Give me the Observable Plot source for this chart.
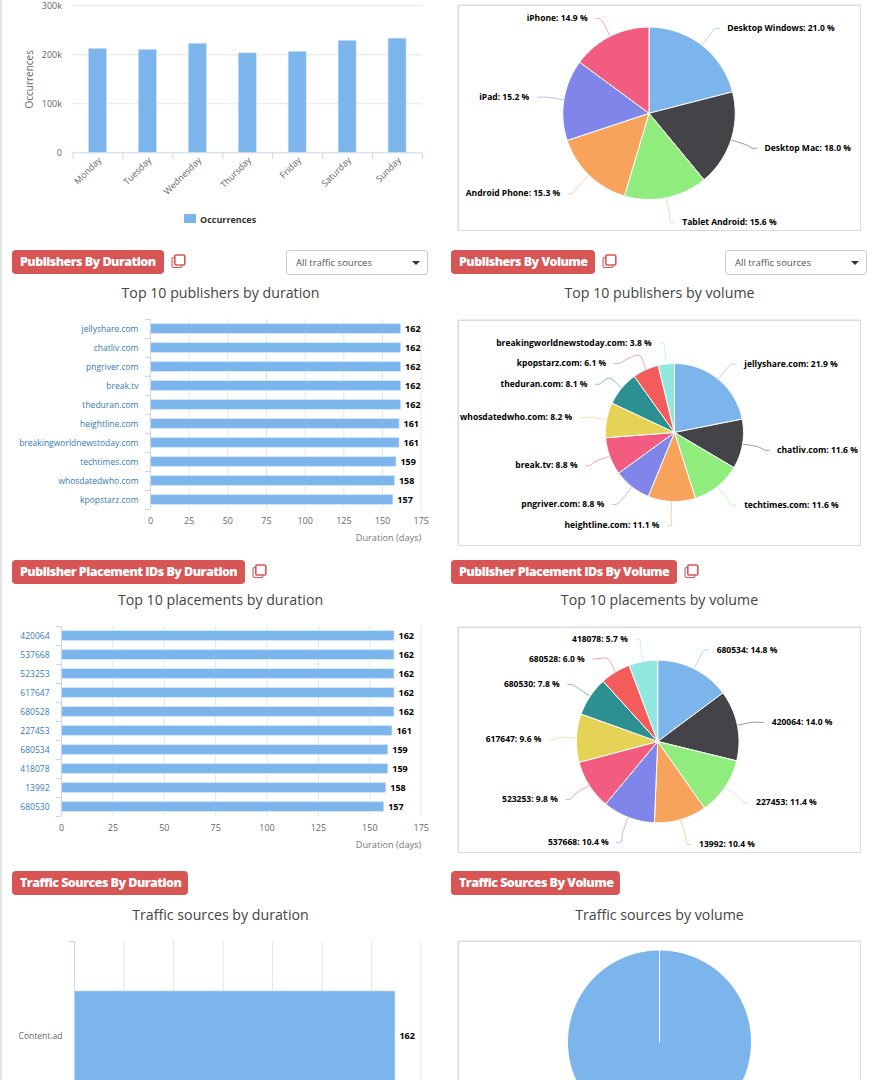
<!DOCTYPE html>
<html><head><meta charset="utf-8">
<script src="https://cdn.jsdelivr.net/npm/d3@7"></script>
<script src="https://cdn.jsdelivr.net/npm/@observablehq/plot@0.6"></script>
<style>
html,body{margin:0;padding:0;background:#fff;width:875px;height:1080px;overflow:hidden;font-family:"Open Sans",sans-serif}
#page{position:relative;width:875px;height:1080px;overflow:hidden}
.abs{position:absolute}
.abs svg{display:block}
.edge{position:absolute;left:0;top:0;width:1.5px;height:1080px;background:#e4e4e4}
.badge{position:absolute;height:24px;line-height:23px;background:#d75555;color:#fff;border-radius:4px;font-weight:800;font-size:12.5px;letter-spacing:-.53px;padding-left:8px;box-sizing:border-box;white-space:nowrap}
.title{position:absolute;width:400px;text-align:center;font-size:14.2px;color:#444;line-height:20px;white-space:nowrap}
.select{position:absolute;width:142px;height:25px;border:1px solid #ccc;border-radius:3px;box-sizing:border-box;font-size:9.5px;line-height:23px;color:#555;padding-left:9px;background:#fff}
.select i{position:absolute;right:7px;top:10px;border-left:4px solid transparent;border-right:4px solid transparent;border-top:4px solid #333}
.legend{position:absolute;left:184px;top:215px;font-size:9px;font-weight:700;color:#333;line-height:10px;padding-left:16px}
.legend i{position:absolute;left:0;top:-1px;width:12px;height:9px;background:#7cb5ec}
</style></head><body><div id="page"><div class="edge"></div></div>
<script>
const palette = ["#7cb5ec","#434348","#90ed7d","#f7a35c","#8085e9","#f15c80","#e4d354","#2b908f","#f45b5b","#91e8e1"];

const weekdays = ["Monday","Tuesday","Wednesday","Thursday","Friday","Saturday","Sunday"];
const occurrences = [212000,210000,222500,203000,206000,228500,233000];
const occurrenceTicks = [0,100000,200000,300000];

const durationTicks = [0,25,50,75,100,125,150,175];
const publisherNames = ["jellyshare.com","chatliv.com","pngriver.com","break.tv","theduran.com","heightline.com","breakingworldnewstoday.com","techtimes.com","whosdatedwho.com","kpopstarz.com"];
const publisherDays = [162,162,162,162,162,161,161,159,158,157];
const placementNames = ["420064","537668","523253","617647","680528","227453","680534","418078","13992","680530"];
const placementDays = [162,162,162,162,162,161,159,159,158,157];
const sourceNames = ["Content.ad"];
const sourceDays = [162];

const deviceNames = ["Desktop Windows","Desktop Mac","Tablet Android","Android Phone","iPad","iPhone"];
const deviceShare = [21.0,18.0,15.6,15.3,15.2,14.9];
const publisherVolNames = ["jellyshare.com","chatliv.com","techtimes.com","heightline.com","pngriver.com","break.tv","whosdatedwho.com","theduran.com","kpopstarz.com","breakingworldnewstoday.com"];
const publisherVolShare = [21.9,11.6,11.6,11.1,8.8,8.8,8.2,8.1,6.1,3.8];
const placementVolNames = ["680534","420064","227453","13992","537668","523253","617647","680530","680528","418078"];
const placementVolShare = [14.8,14.0,11.4,10.4,10.4,9.8,9.6,7.8,6.0,5.7];
const sourceVolNames = ["Content.ad"];
const sourceVolShare = [100];

// dodge applied to radially placed pie labels, in pixels
const deviceDodge = [[-1,7],[-3,-1],[2,-5],[0,-3],[3,2],[-1,9]];
const publisherDodge = [[-1,8],[-3,1],[0,-4.5],[-3,-6],[-1,-6],[4,-1],[3,3],[-3,15],[-19,21],[-3,9]];
const placementDodge = [[1,8],[-3,3],[-1.5,-1.5],[2,-4],[-1,-3],[2,-2],[3,2.5],[2.5,5],[-7,12.5],[-2,7.5]];

const page = document.getElementById("page");
const FONT = "Open Sans";
function place(node,left,top){const d=document.createElement("div");d.className="abs";d.style.left=left+"px";d.style.top=top+"px";d.appendChild(node);page.appendChild(d);}
function html(cls,css,content){const d=document.createElement("div");d.className=cls;d.style.cssText=css;d.innerHTML=content;page.appendChild(d);return d;}

function header(text,left,width,top,iconLeft,selectLeft){
  html("badge",`left:${left}px;width:${width}px;top:${top}px`,text);
  if(iconLeft!=null){
    html("abs",`left:${iconLeft}px;top:${top+4}px;width:15px;height:15px`,
     `<svg width="15" height="15" fill="none" stroke="#d75555"><rect x="1" y="3.5" width="10" height="10" rx="1.5" stroke-width="1.1"/><rect x="3.8" y="1" width="10" height="10" rx="1.2" fill="#fff" stroke-width="1.6"/></svg>`);
  }
  if(selectLeft!=null) html("select",`left:${selectLeft}px;top:${top}px`,"All traffic sources<i></i>");
}
function title(text,center,top){html("title",`left:${center-200}px;top:${top}px`,text);}

// ---- column chart
place(Plot.plot({
  width:440,height:235,marginTop:5.3,marginBottom:82.7,marginLeft:72.5,marginRight:18,
  style:{fontFamily:FONT,fontSize:"9px",background:"transparent",overflow:"visible"},
  x:{type:"band",domain:weekdays,paddingInner:.64,paddingOuter:.32,round:false,axis:null},
  y:{domain:[0,300000],ticks:occurrenceTicks,axis:null},
  marks:[
    Plot.ruleY(occurrenceTicks.slice(1),{y:d=>d,stroke:"#e6e6e6"}),
    Plot.barY(weekdays,{x:d=>d,y:(d,i)=>occurrences[i],fill:"#7cb5ec",stroke:"#c9e0f6",strokeWidth:.6}),
    Plot.ruleY([0],{stroke:"#ccd6eb"}),
    Plot.ruleX(weekdays,{x:d=>d,dx:-24.93,y1:0,y2:-14000,stroke:"#ccd6eb"}),
    Plot.ruleX(weekdays.slice(-1),{x:d=>d,dx:24.93,y1:0,y2:-14000,stroke:"#ccd6eb"}),
    Plot.axisY({ticks:occurrenceTicks,tickSize:0,tickPadding:11,tickFormat:d=>d?d/1000+"k":"0",fill:"#666",fontSize:9}),
    Plot.axisX({tickSize:0,tickPadding:6,tickRotate:-45,dx:2,fill:"#666",fontSize:9,label:null}),
    Plot.text(["Occurrences"],{frameAnchor:"left",textAnchor:"middle",rotate:-90,dx:-43.5,fill:"#666",fontSize:10})
  ]
}),0,0);
html("legend","","<i></i>Occurrences");

// ---- horizontal bars
function bars(names,days,{top,x0,axisLabelFill="#337ab7",plotH=190,padding=.5,showAxis=true,fontSize=8.5}){
  const m=[
    Plot.ruleX(durationTicks.slice(1),{x:d=>d,stroke:"#e6e6e6"}),
    Plot.barX(names,{y:d=>d,x:(d,i)=>days[i],fill:"#7cb5ec",stroke:"#c9e0f6",strokeWidth:.6}),
    Plot.ruleX([0],{stroke:"#ccd6eb"}),
    Plot.ruleY(names,{y:d=>d,dy:-plotH/names.length/2,x1:0,x2:-5/((421.7-x0)/175),stroke:"#ccd6eb"}),
    Plot.ruleY(names.slice(-1),{y:d=>d,dy:plotH/names.length/2,x1:0,x2:-5/((421.7-x0)/175),stroke:"#ccd6eb"}),
    Plot.axisY({tickSize:0,tickPadding:12,fill:axisLabelFill,fontSize,label:null}),
    Plot.text(names,{y:d=>d,x:(d,i)=>days[i],text:(d,i)=>String(days[i]),dx:4,textAnchor:"start",fontWeight:700,fill:"#000",fontSize:9})
  ];
  if(showAxis){
    m.push(Plot.axisX({ticks:durationTicks,tickSize:0,tickPadding:8,fill:"#666",fontSize:9,label:null}));
    m.push(Plot.text(["Duration (days)"],{frameAnchor:"bottom-right",dy:31,textAnchor:"end",fill:"#777",fontSize:9.2}));
  }
  place(Plot.plot({
    width:440,height:plotH+2+40,marginTop:2,marginBottom:40,marginLeft:x0,marginRight:440-421.7,
    style:{fontFamily:FONT,fontSize:"9px",background:"transparent"},
    x:{domain:[0,175],axis:null},
    y:{type:"band",domain:names,paddingInner:padding,paddingOuter:padding/2,round:false,axis:null},
    marks:m
  }),-.6,top-2);
}

// ---- pies, drawn as closed polylines in radius units
function pie(names,shares,dodge,{left,top,W,H,cx,cy,r}){
  const arcs=d3.pie().sort(null).value(d=>d)(shares);
  const outline=[],connect=[],labels=[];
  arcs.forEach((a,i)=>{
    const name=names[i];
    outline.push({name,x:0,y:0});
    const n=Math.max(2,Math.ceil((a.endAngle-a.startAngle)/(Math.PI/180)));
    for(let k=0;k<=n;k++){
      const t=a.startAngle+(a.endAngle-a.startAngle)*k/n;
      outline.push({name,x:Math.sin(t),y:Math.cos(t)});
    }
    outline.push({name,x:0,y:0});
    if(!dodge) return;
    const mid=(a.startAngle+a.endAngle)/2, R=(r+30)/r;
    const [nx,ny]=dodge[i];
    const lx=Math.sin(mid)*R+nx/r, ly=Math.cos(mid)*R-ny/r;
    const side=lx>=0?1:-1;
    connect.push({name,x:Math.sin(mid),y:Math.cos(mid)});
    connect.push({name,x:Math.sin(mid)*(r+16)/r,y:Math.cos(mid)*(r+16)/r});
    connect.push({name,x:lx-side*4/r,y:ly});
    connect.push({name,x:lx,y:ly});
    labels.push({name,x:lx,y:ly,side,text:`${name}: ${shares[i].toFixed(1)} %`});
  });
  place(Plot.plot({
    width:W,height:H,margin:0,
    style:{fontFamily:FONT,background:"transparent"},
    x:{domain:[-(cx-left)/r,(W-(cx-left))/r],range:[0,W],axis:null},
    y:{domain:[-(H-(cy-top))/r,(cy-top)/r],range:[H,0],axis:null},
    color:{domain:names,range:palette},
    marks:[
      Plot.frame({stroke:"#dcdcdc",strokeWidth:1.6,inset:.8}),
      Plot.line(connect,{x:"x",y:"y",z:"name",stroke:"name",strokeWidth:1,strokeOpacity:.55,curve:"catmull-rom"}),
      Plot.line(outline,{x:"x",y:"y",z:"name",fill:"name",stroke:"#fff",strokeWidth:1,strokeLinejoin:"round"}),
      Plot.text(labels.filter(d=>d.side>0),{x:"x",y:"y",text:"text",dx:8,textAnchor:"start",fontWeight:700,fontSize:8.5,fill:"#000"}),
      Plot.text(labels.filter(d=>d.side<0),{x:"x",y:"y",text:"text",dx:-8,textAnchor:"end",fontWeight:700,fontSize:8.5,fill:"#000"})
    ]
  }),left-.4,top-.5);
}

pie(deviceNames,deviceShare,deviceDodge,{left:457.5,top:4.5,W:404,H:227,cx:649,cy:113.3,r:86.2});

header("Publishers By Duration",12,152,250,171,286);
header("Publishers By Volume",451,144,250,602,725);
title("Top 10 publishers by duration",220.5,283);
title("Top 10 publishers by volume",659.5,283);
bars(publisherNames,publisherDays,{top:319.3,x0:151});
pie(publisherVolNames,publisherVolShare,publisherDodge,{left:457.5,top:319,W:404,H:227,cx:674.5,cy:432,r:69});

header("Publisher Placement IDs By Duration",12,233,560,252,null);
header("Publisher Placement IDs By Volume",451,226,560,684,null);
title("Top 10 placements by duration",220.5,590);
title("Top 10 placements by volume",659.5,590);
bars(placementNames,placementDays,{top:626.3,x0:62});
pie(placementVolNames,placementVolShare,placementDodge,{left:457.5,top:626,W:404,H:227,cx:657.7,cy:741,r:81.3});

header("Traffic Sources By Duration",12,176,871,null,null);
header("Traffic Sources By Volume",451,169,871,null,null);
title("Traffic sources by duration",220.5,905);
title("Traffic sources by volume",659.5,905);
bars(sourceNames,sourceDays,{top:941,x0:75,axisLabelFill:"#666",padding:.526,showAxis:false});
pie(sourceVolNames,sourceVolShare,null,{left:457.5,top:940.5,W:404,H:227,cx:659.5,cy:1042,r:92});
</script></body></html>
